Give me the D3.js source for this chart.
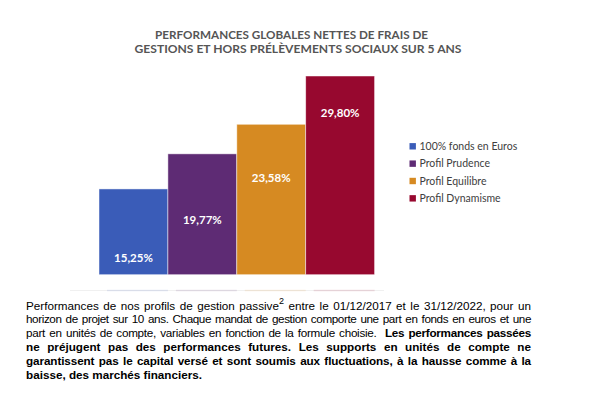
<!DOCTYPE html>
<html><head><meta charset="utf-8">
<script src="https://cdn.jsdelivr.net/npm/d3@7"></script>
<style>
html,body{margin:0;padding:0;background:#fff;width:607px;height:393px;overflow:hidden;}
#chart{position:absolute;left:0;top:0;}
#note{position:absolute;left:26px;top:298.5px;width:505px;font-family:"Liberation Sans",Arial,sans-serif;font-size:11.7px;line-height:13.9px;color:#000;}
#note div{height:13.9px;white-space:nowrap;}
#note .in{display:inline-block;white-space:nowrap;}
#note b{font-weight:bold;}
sup{font-size:9px;line-height:0;vertical-align:6px;}
</style></head><body>
<svg id="chart" width="607" height="393"></svg>
<div id="note"></div>
<script>
const categories = ["100% fonds en Euros", "Profil Prudence", "Profil Equilibre", "Profil Dynamisme"];
const values = [15.25, 19.77, 23.58, 29.80];
const valueLabels = ["15,25%", "19,77%", "23,58%", "29,80%"];
const colors = ["#3a5cb8", "#5e2b74", "#d68a22", "#97082f"];
const titleLines = ["PERFORMANCES GLOBALES NETTES DE FRAIS DE", "GESTIONS ET HORS PRÉLÈVEMENTS SOCIAUX SUR 5 ANS"];
const noteLines = [
  [["n","Performances de nos profils de gestion passive"],["s","2"],["n"," entre le 01/12/2017 et le 31/12/2022, pour un"]],
  [["n","horizon de projet sur 10 ans. Chaque mandat de gestion comporte une part en fonds en euros et une"]],
  [["n","part en unités de compte, variables en fonction de la formule choisie.\u00a0 "],["b","Les performances passées"]],
  [["b","ne préjugent pas des performances futures. Les supports en unités de compte ne"]],
  [["b","garantissent pas le capital versé et sont soumis aux fluctuations, à la hausse comme à la"]],
  [["b","baisse, des marchés financiers."]]
];

const svg = d3.select("#chart");
const font = "Lato, 'Open Sans', sans-serif";

// Title
svg.selectAll("text.title").data(titleLines).join("text")
  .attr("class","title")
  .attr("x", (d,i)=> i===0 ? 291.5 : 298)
  .attr("y", (d,i)=> 39 + i*14.3)
  .attr("text-anchor","middle")
  .attr("font-family", font).attr("font-weight","bold").attr("font-size", 12)
  .attr("fill","#555555")
  .attr("textLength",(d,i)=> i===0 ? 273 : 327)
  .attr("lengthAdjust","spacingAndGlyphs")
  .text(d=>d);

// Scales
const x = d3.scaleBand().domain(categories).range([99, 374.6]).padding(0);
const y = d3.scaleLinear().domain([4.2, 29.8]).range([274.7, 76]);

// faint reflection line
svg.append("line").attr("x1",70).attr("x2",384).attr("y1",290.5).attr("y2",290.5)
  .attr("stroke","#f0f0f0").attr("stroke-width",1.2);
svg.selectAll("line.refl").data(categories).join("line").attr("class","refl")
  .attr("x1",d=>x(d)+8).attr("x2",d=>x(d)+x.bandwidth())
  .attr("y1",290.5).attr("y2",290.5)
  .attr("stroke",(d,i)=>colors[i]).attr("stroke-opacity",0.13).attr("stroke-width",1.5);

// Bars
svg.selectAll("rect.bar").data(values).join("rect").attr("class","bar")
  .attr("x",(d,i)=>x(categories[i]))
  .attr("y",d=>y(d))
  .attr("width",x.bandwidth())
  .attr("height",d=>y.range()[0]-y(d))
  .attr("fill",(d,i)=>colors[i])
  .attr("stroke","#ffffff").attr("stroke-opacity",0.6).attr("stroke-width",0.8);

// Value labels (drop from bar top)
const labelDrop = [68.7, 65.7, 54, 36.7];
svg.selectAll("text.val").data(values).join("text").attr("class","val")
  .attr("x",(d,i)=>x(categories[i])+x.bandwidth()/2)
  .attr("y",(d,i)=>y(d)+labelDrop[i])
  .attr("dy","0.36em")
  .attr("text-anchor","middle")
  .attr("font-family",font).attr("font-weight","bold").attr("font-size",11.5)
  .attr("fill","#ffffff")
  .text((d,i)=>valueLabels[i]);

// Legend
const lg = svg.selectAll("g.leg").data(categories).join("g").attr("class","leg")
  .attr("transform",(d,i)=>`translate(409.5,${146.3 + i*17.35})`);
lg.append("rect").attr("x",0).attr("y",-3.2).attr("width",6.4).attr("height",6.4)
  .attr("fill",(d,i)=>colors[i]);
lg.append("text").attr("x",10).attr("y",0).attr("dy","0.35em")
  .attr("font-family",font).attr("font-size",10.5).attr("fill","#404040")
  .text(d=>d);

// Note paragraph, manually justified line by line
const note = d3.select("#note");
const targetW = 505;
noteLines.forEach((line,li)=>{
  const div = note.append("div");
  const inner = div.append("span").attr("class","in");
  line.forEach(([t,s])=>{
    if(t==="n") inner.append("span").text(s);
    else if(t==="b") inner.append("b").text(s);
    else inner.append("sup").text(s);
  });
  if (li < noteLines.length-1) {
    const txt = inner.node().textContent;
    const spaces = (txt.match(/[ \u00a0]/g) || []).length;
    let w = inner.node().getBoundingClientRect().width;
    const minW = targetW - spaces * 1.2;
    if (w > minW) {
      inner.style("letter-spacing", ((minW - w) / txt.length) + "px");
      w = inner.node().getBoundingClientRect().width;
    }
    if (spaces > 0) inner.style("word-spacing", ((targetW - w)/spaces) + "px");
  }
});
</script>
</body></html>
